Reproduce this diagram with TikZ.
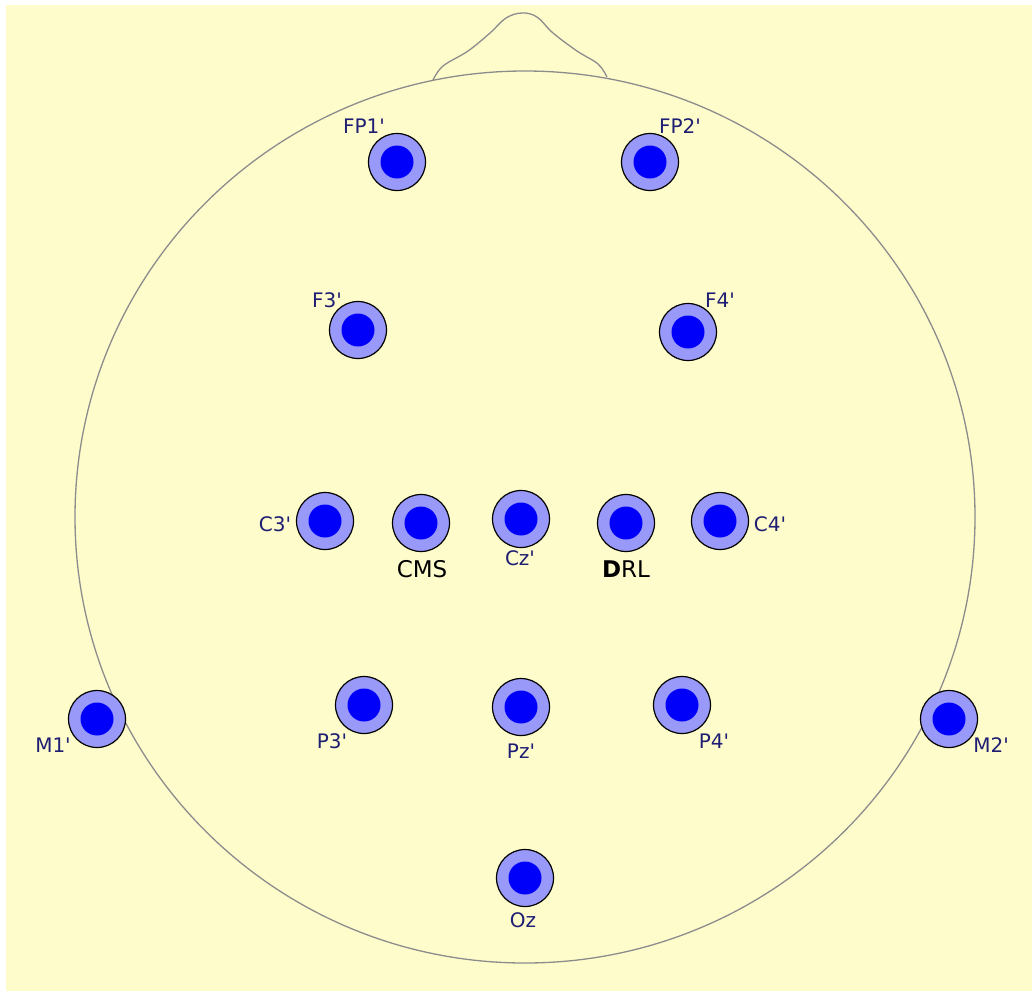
\documentclass[tikz,border=0pt]{standalone}
\usepackage{fontspec}
\setmainfont{DejaVu Sans}
\usepackage{tikz}
\usetikzlibrary{positioning}
\usepackage{xcolor}

\definecolor{capbg}{RGB}{255,252,204}
\definecolor{ringblue}{RGB}{153,153,250}
\definecolor{coreblue}{RGB}{0,0,250}
\definecolor{navy}{RGB}{30,30,115}
\definecolor{headgray}{RGB}{140,140,140}

\newcommand{\pr}{\textquotesingle}

\begin{document}
\begin{tikzpicture}[
  x=1pt, y=-1pt,
  electrode/.style={circle, draw=black, line width=1.2pt, fill=ringblue,
    minimum size=57pt, inner sep=0pt,
    path picture={\fill[coreblue] (path picture bounding box.center) circle (16.5pt);}},
  lbl/.style={text=navy, inner sep=0pt, anchor=base, font=\fontsize{20}{24}\selectfont},
  reflbl/.style={text=black, inner sep=0pt, anchor=base, font=\fontsize{23}{27}\selectfont},
  head/.style={draw=headgray, line width=1.3pt}
]
  \useasboundingbox (0,0) rectangle (1032,991);
  \fill[capbg] (6,5) rectangle (1032,991);

  % Head outline and nose.
  \draw[head] (525,517) ellipse (450 and 446);
  \draw[head] plot[smooth, tension=0.6] coordinates {(433,80) (443,66) (468,51)
    (490,33) (506,18) (522,13) (537,17) (553,33) (577,51) (598,64) (607,77)};

  % Electrodes.
  \node[electrode] (fpone) at (397,162) {};
  \node[electrode] (fptwo) at (650,162) {};
  \node[electrode] (fthree) at (358,330) {};
  \node[electrode] (ffour) at (688,332) {};
  \node[electrode] (cthree) at (325,521) {};
  \node[electrode] (cms) at (421,523) {};
  \node[electrode] (cz) at (521,519) {};
  \node[electrode] (drl) at (626,523) {};
  \node[electrode] (cfour) at (720,521) {};
  \node[electrode] (pthree) at (364,705) {};
  \node[electrode] (pz) at (521,707) {};
  \node[electrode] (pfour) at (682,705) {};
  \node[electrode] (mone) at (97,719) {};
  \node[electrode] (mtwo) at (949,719) {};
  \node[electrode] (oz) at (525,878) {};

  % Labels.
  \node[lbl] (fponelbl) at (364,133) {FP1\pr};
  \node[lbl] (fptwolbl) at (680,133) {FP2\pr};
  \node[lbl] (fthreelbl) at (327,307) {F3\pr};
  \node[lbl] (ffourlbl) at (720,307) {F4\pr};
  \node[lbl] (cthreelbl) at (275,531) {C3\pr};
  \node[reflbl] (cmslbl) at (422,577) {CMS};
  \node[lbl] (czlbl) at (520,565) {Cz\pr};
  \node[reflbl] (drllbl) at (626,577) {\textbf{D}RL};
  \node[lbl] (cfourlbl) at (770,531) {C4\pr};
  \node[lbl] (pthreelbl) at (332,748) {P3\pr};
  \node[lbl] (pzlbl) at (521,758) {Pz\pr};
  \node[lbl] (pfourlbl) at (714,748) {P4\pr};
  \node[lbl] (monelbl) at (53,752) {M1\pr};
  \node[lbl] (mtwolbl) at (991,752) {M2\pr};
  \node[lbl] (ozlbl) at (523,927) {Oz};
\end{tikzpicture}
\end{document}
